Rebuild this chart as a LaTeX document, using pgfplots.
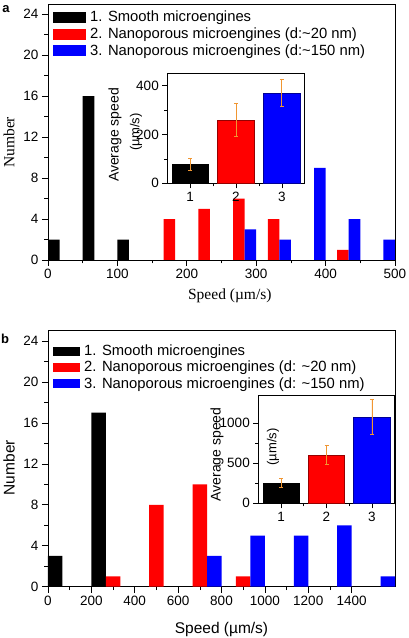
\documentclass[border=0pt]{standalone}
\usepackage{fontspec}
\setmainfont{Liberation Sans}
\newfontfamily\timesf{Liberation Serif}
\usepackage{pgfplots}
\pgfplotsset{compat=1.18}
\definecolor{erro}{RGB}{240,150,50}
\definecolor{dkred}{RGB}{150,0,0}
\definecolor{dkblue}{RGB}{0,0,150}
\pgfplotsset{
  mainax/.style={scale only axis, width=347pt, height=256pt, anchor=south west,
    ymin=0, ymax=25, ytick={0,4,...,24}, minor y tick num=1,
    tick align=outside, tick pos=left, major tick length=6pt, minor tick length=3.5pt,
    tick style={line width=0.6pt, black}, axis line style={line width=0.8pt},
    /pgf/number format/assume math mode=true, /pgf/number format/1000 sep={},
    tick label style={font=\fontsize{13.5}{16}\selectfont},
    legend style={at={(rel axis cs:0,1)}, anchor=north west, draw=none, fill=none,
      font=\fontsize{14.8}{17}\selectfont, row sep=2.5pt, column sep=3pt,
      inner sep=0pt, xshift=5pt, yshift=-6pt, nodes={inner sep=1pt}},
    legend cell align=left},
  hb/.style={ybar, bar width=#1, bar shift=0pt, draw=none,
    legend image code/.code={\fill[##1] (0pt,-5.5pt) rectangle (33pt,5.5pt);}},
  hbb/.style={ybar, bar width=#1, bar shift=0pt, draw=none,
    legend image code/.code={\fill[##1] (0pt,-4.5pt) rectangle (27.5pt,4.5pt);}},
  inax/.style={scale only axis, anchor=south west, xmin=0.5, xmax=3.5, ymin=0,
    xtick={1,2,3}, minor x tick num=1, minor y tick num=1, tick align=outside, tick pos=left,
    major tick length=5pt, minor tick length=3pt,
    tick style={line width=0.6pt, black}, axis line style={line width=0.8pt},
    axis background/.style={fill=white},
    /pgf/number format/assume math mode=true, /pgf/number format/1000 sep={},
    tick label style={font=\fontsize{13.5}{16}\selectfont}},
  ib/.style={ybar, bar width=0.8, bar shift=0pt, line width=0.6pt,
    error bars/y dir=both, error bars/y explicit,
    error bars/error bar style={color=erro, line width=0.8pt},
    error bars/error mark options={rotate=90, mark size=2pt, color=erro, line width=0.8pt}}
}
\begin{document}
\begin{tikzpicture}
\path[use as bounding box] (0,0) rectangle (408pt,638pt);
% ---------------- panel a ----------------
\begin{axis}[mainax, at={(48pt,378pt)}, xmin=0, xmax=500, xtick={0,100,...,500}, minor x tick num=1,
  xlabel={\timesf Speed (µm/s)}, ylabel={\timesf Number},
  xlabel style={at={(axis description cs:0.524,-0.139)}, anchor=center, font=\fontsize{15.5}{18}\selectfont},
  ylabel style={at={(axis description cs:-0.112,0.46)}, anchor=center, font=\fontsize{15.5}{18}\selectfont}]
\addplot[hb=16.6667, fill=black] coordinates {(8.333,2) (58.333,16) (108.333,2)};
\addlegendentry{1. Smooth microengines}
\addplot[hb=16.6667, fill=red] coordinates {(175,4) (225,5) (275,6) (325,4) (425,1)};
\addlegendentry{2. Nanoporous microengines (d:\textasciitilde20 nm)}
\addplot[hb=16.6667, fill=blue] coordinates {(291.667,3) (341.667,2) (391.667,9) (441.667,4) (491.667,2)};
\addlegendentry{3. Nanoporous microengines (d:\textasciitilde150 nm)}
\end{axis}
\begin{axis}[inax, at={(167.3pt,454.7pt)}, width=137.4pt, height=110pt, ymax=450, ytick={0,200,400}]
\addplot[ib, fill=black, draw=black] coordinates {(1,78) +- (0,24)};
\addplot[ib, fill=red, draw=dkred] coordinates {(2,258) +- (0,67)};
\addplot[ib, fill=blue, draw=dkblue] coordinates {(3,370) +- (0,57)};
\end{axis}
\node[rotate=90, font=\fontsize{14}{16}\selectfont, anchor=center] at (115pt,503pt) {Average speed};
\node[rotate=90, font=\fontsize{13}{16}\selectfont, anchor=center] at (136pt,506pt) {(µm/s)};
\node[font=\bfseries\fontsize{13}{13}\selectfont] at (6pt,629pt) {a};
% ---------------- panel b ----------------
\begin{axis}[mainax, at={(48pt,51.3pt)}, xmin=0, xmax=1600, xtick={0,200,...,1400}, minor x tick num=1,
  xlabel={Speed (µm/s)}, ylabel={Number},
  legend style={xshift=-0.5pt, yshift=-7pt, row sep=2pt},
  xlabel style={at={(axis description cs:0.5,-0.167)}, anchor=center, font=\fontsize{15.5}{18}\selectfont},
  ylabel style={at={(axis description cs:-0.112,0.465)}, anchor=center, font=\fontsize{15.5}{18}\selectfont}]
\addplot[hbb=66.6667, fill=black] coordinates {(33.333,3) (233.333,17)};
\addlegendentry{1. Smooth microengines}
\addplot[hbb=66.6667, fill=red] coordinates {(300,1) (500,8) (700,10) (900,1)};
\addlegendentry{2. Nanoporous microengines (d: \textasciitilde20 nm)}
\addplot[hbb=66.6667, fill=blue] coordinates {(766.667,3) (966.667,5) (1166.667,5) (1366.667,6) (1566.667,1)};
\addlegendentry{3. Nanoporous microengines (d: \textasciitilde150 nm)}
\end{axis}
\begin{axis}[inax, at={(258.3pt,134.7pt)}, width=136.4pt, height=108.3pt, ymax=1350, ytick={0,500,1000}]
\addplot[ib, fill=black, draw=black] coordinates {(1,250) +- (0,58)};
\addplot[ib, fill=red, draw=dkred] coordinates {(2,604) +- (0,115)};
\addplot[ib, fill=blue, draw=dkblue] coordinates {(3,1075) +- (0,222)};
\end{axis}
\node[rotate=90, font=\fontsize{14}{16}\selectfont, anchor=center] at (217pt,183.5pt) {Average speed};
\node[rotate=90, font=\fontsize{13}{16}\selectfont, anchor=center] at (273pt,191pt) {(µm/s)};
\node[font=\bfseries\fontsize{13}{13}\selectfont] at (5pt,299pt) {b};
\end{tikzpicture}
\end{document}
